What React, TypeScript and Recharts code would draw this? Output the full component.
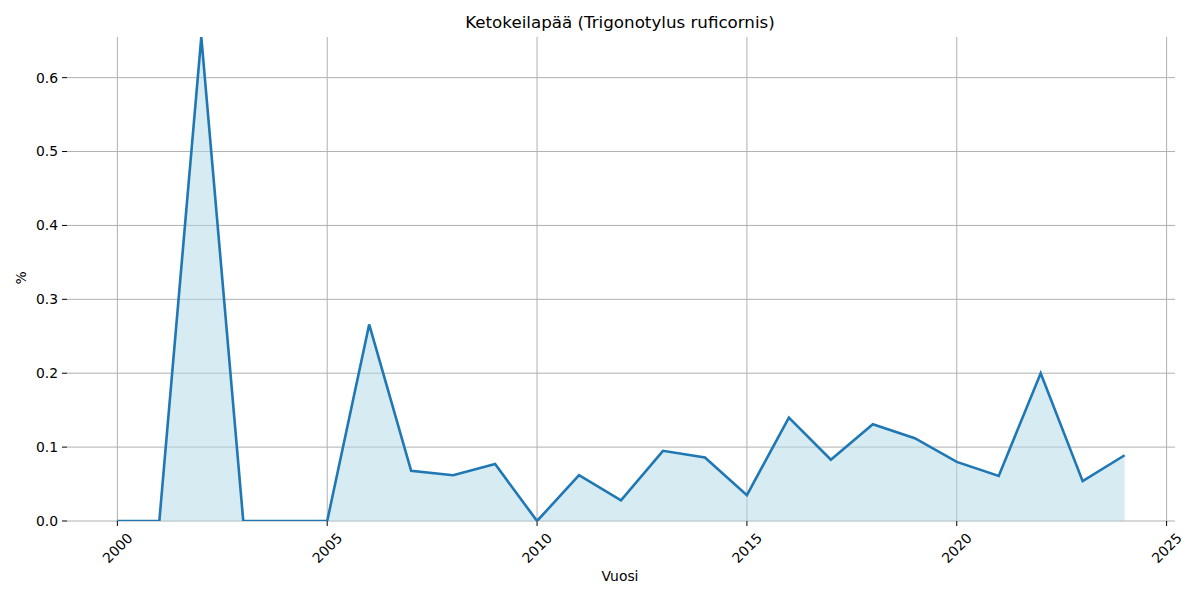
import { Area, CartesianGrid, ComposedChart, XAxis, YAxis } from 'recharts';

const years = [
  2000, 2001, 2002, 2003, 2004, 2005, 2006, 2007, 2008, 2009, 2010, 2011, 2012,
  2013, 2014, 2015, 2016, 2017, 2018, 2019, 2020, 2021, 2022, 2023, 2024,
];
const shares = [
  0, 0, 0.655, 0, 0, 0, 0.266, 0.068, 0.062, 0.077, 0, 0.062, 0.028,
  0.095, 0.086, 0.035, 0.14, 0.083, 0.131, 0.112, 0.08, 0.061, 0.2, 0.054, 0.089,
];
const xTicks = [2000, 2005, 2010, 2015, 2020, 2025];
const yTicks = [0, 0.1, 0.2, 0.3, 0.4, 0.5, 0.6];

const data = years.map((year, i) => ({ year, share: shares[i] }));

const font = '"DejaVu Sans", sans-serif';

const RotatedTick = ({ x, y, payload }: any) => (
  <text
    x={x}
    y={y + 20}
    textAnchor="middle"
    dominantBaseline="central"
    transform={`rotate(-45, ${x}, ${y + 20})`}
    fontSize={13.9}
    fontFamily={font}
    fill="#000"
  >
    {payload.value}
  </text>
);

export default function App() {
  return (
    <div style={{ position: 'absolute', left: 0, top: 0, width: 1200, height: 600, background: '#fff', fontFamily: font }}>
      <div style={{ position: 'absolute', left: 0, width: 1240, top: 12, textAlign: 'center', fontSize: 16.7, color: '#000' }}>
        Ketokeilapää (Trigonotylus ruficornis)
      </div>
      <div style={{ position: 'absolute', left: 0, width: 1240, top: 568, textAlign: 'center', fontSize: 13.9, color: '#000' }}>
        Vuosi
      </div>
      <div
        style={{
          position: 'absolute',
          left: 14,
          top: 270,
          fontSize: 13.9,
          color: '#000',
          transform: 'rotate(-90deg)',
        }}
      >
        %
      </div>
      <ComposedChart
        width={1200}
        height={600}
        data={data}
        margin={{ top: 37, right: 25, left: 0, bottom: 0 }}
        style={{ position: 'absolute', left: 0, top: 0 }}
      >
        <CartesianGrid stroke="#b0b0b0" strokeWidth={1} syncWithTicks />
        <XAxis
          dataKey="year"
          type="number"
          domain={[1998.8, 2025.2]}
          ticks={xTicks}
          allowDataOverflow
          axisLine={false}
          tickLine={{ stroke: '#000' }}
          tickSize={5}
          height={79}
          tick={<RotatedTick />}
        />
        <YAxis
          type="number"
          domain={[0, 0.655]}
          ticks={yTicks}
          allowDataOverflow
          axisLine={false}
          tickLine={{ stroke: '#000' }}
          tickSize={5}
          tickMargin={4}
          width={67}
          tickFormatter={(v: number) => v.toFixed(1)}
          tick={{ fontSize: 13.9, fontFamily: font, fill: '#000' }}
        />
        <Area
          dataKey="share"
          type="linear"
          stroke="#1f77b4"
          strokeWidth={2.6}
          fill="#add8e6"
          fillOpacity={0.5}
          isAnimationActive={false}
          dot={false}
          activeDot={false}
        />
      </ComposedChart>
    </div>
  );
}
